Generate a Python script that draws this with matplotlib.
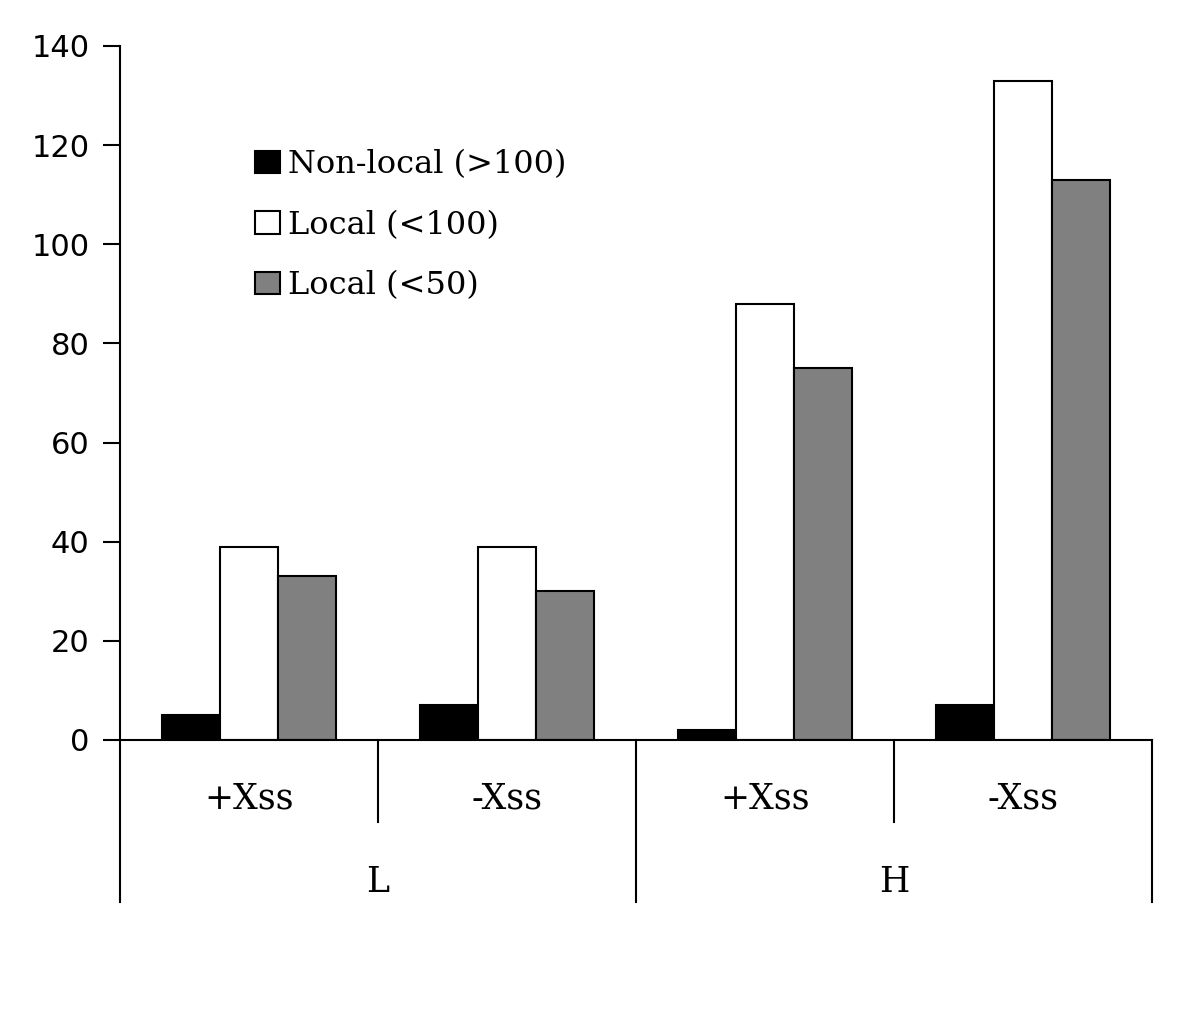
import numpy as np
import matplotlib.pyplot as plt
import matplotlib.transforms as mtransforms

# data
categories = ['+Xss', '-Xss', '+Xss', '-Xss']
groups = ['L', 'H']
non_local = [5, 7, 2, 7]
local_100 = [39, 39, 88, 133]
local_50 = [33, 30, 75, 113]
series_names = ['Non-local (>100)', 'Local (<100)', 'Local (<50)']

fig = plt.figure(figsize=(12, 10.32), dpi=100)
ax = fig.add_axes([0.1, 0.283, 0.86, 0.6725])

x = np.arange(len(categories))
w = 0.225
ax.bar(x - w, non_local, w, color='black', edgecolor='black', linewidth=1.5, label=series_names[0])
ax.bar(x, local_100, w, color='white', edgecolor='black', linewidth=1.5, label=series_names[1])
ax.bar(x + w, local_50, w, color='#808080', edgecolor='black', linewidth=1.5, label=series_names[2])

ax.set_xlim(-0.5, len(categories) - 0.5)
ax.set_ylim(0, 140)
ax.set_yticks(np.arange(0, 141, 20))
ax.set_xticks([])
ax.tick_params(axis='y', direction='out', length=12, width=1.5, labelsize=22, pad=10)
for lab in ax.get_yticklabels():
    lab.set_family('DejaVu Sans')
for s in ['top', 'right']:
    ax.spines[s].set_visible(False)
ax.spines['left'].set_linewidth(1.5)
ax.spines['bottom'].set_linewidth(1.5)

# category / group labels and separators below the axis
trans = mtransforms.blended_transform_factory(ax.transData, ax.transAxes)
for i, c in enumerate(categories):
    ax.text(i, -0.085, c, transform=trans, ha='center', va='center',
            family='DejaVu Serif', fontsize=25)
for j, g in enumerate(groups):
    ax.text(2 * j + 0.5, -0.204, g, transform=trans, ha='center', va='center',
            family='DejaVu Serif', fontsize=25)
for xs in [0.5, 2.5]:
    ax.plot([xs, xs], [0, -0.118], transform=trans, color='black', lw=1.5, clip_on=False)
for xs in [-0.5, 1.5, 3.5]:
    ax.plot([xs, xs], [0, -0.233], transform=trans, color='black', lw=1.5, clip_on=False)

leg = ax.legend(loc='upper left', bbox_to_anchor=(0.131, 0.851), frameon=False,
                prop={'family': 'DejaVu Serif', 'size': 23}, handlelength=0.78,
                handleheight=0.7, handletextpad=0.25, labelspacing=0.92,
                borderpad=0, borderaxespad=0)

fig.savefig('out.png', dpi=100, facecolor='white')
